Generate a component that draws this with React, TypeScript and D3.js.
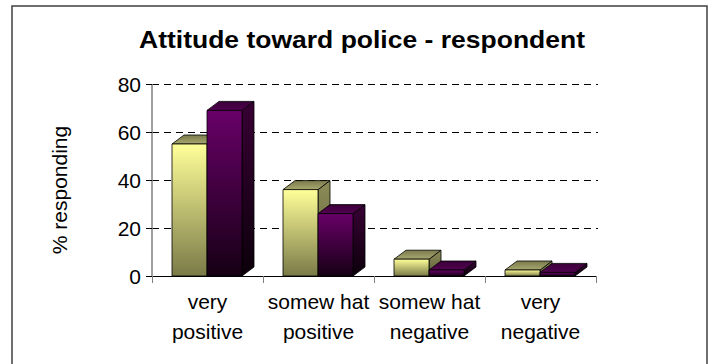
import React from "react";
import * as d3 from "d3";

const categories = [
  ["very", "positive"],
  ["somew hat", "positive"],
  ["somew hat", "negative"],
  ["very", "negative"],
];
const seriesNames = ["respondent", "other"];
const respondentValues = [55, 36, 7, 2.5];
const otherValues = [69, 26, 2.5, 1.5];
const yTicks = [0, 20, 40, 60, 80];

const W = 710;
const H = 364;
const plot = { left: 152, right: 596, top: 84, bottom: 276 };
const DX = 12;
const DY = 9;
const FONT = "'Liberation Sans', Arial, sans-serif";

const palettes = {
  respondent: {
    front: ["#ffff99", "#7a7a48"],
    side: ["#8c8c58", "#5e5e3a"],
    top: ["#a8a870", "#7a7a4c"],
  },
  other: {
    front: ["#680068", "#160014"],
    side: ["#380034", "#0c000b"],
    top: ["#520050", "#3a0038"],
  },
};

export default function App() {
  const x = d3
    .scaleBand<number>()
    .domain(categories.map((_, i) => i))
    .range([plot.left, plot.right]);
  const inner = d3
    .scaleBand<string>()
    .domain(seriesNames)
    .range([20, 20 + 70]);
  const y = d3.scaleLinear().domain([0, 80]).range([plot.bottom, plot.top]);

  const seriesValues: Record<string, number[]> = {
    respondent: respondentValues,
    other: otherValues,
  };

  const bars: React.ReactNode[] = [];
  categories.forEach((_, ci) => {
    seriesNames.forEach((s) => {
      const v = seriesValues[s][ci];
      const x0 = (x(ci) as number) + (inner(s) as number);
      const w = inner.bandwidth();
      const yt = y(v);
      const yb = y(0);
      const key = `${ci}-${s}`;
      bars.push(
        <g key={key} stroke="#000" strokeWidth={0.8} strokeLinejoin="round">
          <polygon
            points={`${x0 + w},${yt} ${x0 + w + DX},${yt - DY} ${x0 + w + DX},${yb - DY} ${x0 + w},${yb}`}
            fill={`url(#side-${s})`}
          />
          <polygon
            points={`${x0},${yt} ${x0 + DX},${yt - DY} ${x0 + w + DX},${yt - DY} ${x0 + w},${yt}`}
            fill={`url(#top-${s})`}
          />
          <rect x={x0} y={yt} width={w} height={yb - yt} fill={`url(#front-${s})`} />
        </g>
      );
    });
  });

  return (
    <svg width={W} height={H} style={{ position: "absolute", left: 0, top: 0 }}>
      <defs>
        {seriesNames.map((s) => {
          const p = palettes[s as keyof typeof palettes];
          return (
            <React.Fragment key={s}>
              <linearGradient id={`front-${s}`} x1="0" y1="0" x2="0" y2="1">
                <stop offset="0" stopColor={p.front[0]} />
                <stop offset="1" stopColor={p.front[1]} />
              </linearGradient>
              <linearGradient id={`side-${s}`} x1="0" y1="0" x2="0" y2="1">
                <stop offset="0" stopColor={p.side[0]} />
                <stop offset="1" stopColor={p.side[1]} />
              </linearGradient>
              <linearGradient id={`top-${s}`} x1="0" y1="1" x2="0" y2="0">
                <stop offset="0" stopColor={p.top[0]} />
                <stop offset="1" stopColor={p.top[1]} />
              </linearGradient>
            </React.Fragment>
          );
        })}
      </defs>
      <rect x={0} y={0} width={W} height={H} fill="#fff" />
      <rect x={12} y={6} width={695} height={380} fill="#fff" stroke="#404040" strokeWidth={1.5} />

      <text
        x={362}
        y={48}
        textAnchor="middle"
        fontFamily={FONT}
        fontWeight="bold"
        fontSize={24}
        textLength={446}
        lengthAdjust="spacingAndGlyphs"
        fill="#000"
      >
        Attitude toward police - respondent
      </text>

      {/* gridlines */}
      {yTicks
        .filter((t) => t > 0)
        .map((t) => (
          <line
            key={t}
            x1={plot.left}
            x2={plot.right + 2}
            y1={y(t) + 0.5}
            y2={y(t) + 0.5}
            stroke="#000"
            strokeWidth={1}
            strokeDasharray="7,5"
          />
        ))}

      {/* y axis */}
      <line x1={plot.left} x2={plot.left} y1={plot.top} y2={plot.bottom} stroke="#808080" strokeWidth={1.5} />
      {yTicks.map((t) => (
        <g key={t}>
          <line x1={plot.left - 6} x2={plot.left} y1={y(t) + 0.5} y2={y(t) + 0.5} stroke="#000" />
          <text
            x={plot.left - 11}
            y={y(t)}
            dy="0.36em"
            textAnchor="end"
            fontFamily={FONT}
            fontSize={21}
            fill="#000"
          >
            {t}
          </text>
        </g>
      ))}

      {bars}

      {/* x axis */}
      <line x1={plot.left} x2={plot.right} y1={plot.bottom + 0.5} y2={plot.bottom + 0.5} stroke="#000" strokeWidth={1.2} />
      {categories.map((_, i) => (
        <line
          key={`t${i}`}
          x1={(x(i) as number) + 0.5}
          x2={(x(i) as number) + 0.5}
          y1={plot.bottom}
          y2={plot.bottom + 7}
          stroke="#808080"
        />
      ))}
      <line x1={plot.right + 0.5} x2={plot.right + 0.5} y1={plot.bottom} y2={plot.bottom + 7} stroke="#808080" />
      {categories.map((lines, i) => (
        <text
          key={`c${i}`}
          textAnchor="middle"
          fontFamily={FONT}
          fontSize={21}
          fill="#000"
        >
          {lines.map((l, li) => (
            <tspan key={li} x={(x(i) as number) + x.bandwidth() / 2} y={309 + li * 30}>
              {l}
            </tspan>
          ))}
        </text>
      ))}

      <text
        transform={`translate(67,190) rotate(-90)`}
        textAnchor="middle"
        fontFamily={FONT}
        fontSize={21}
        fill="#000"
      >
        % responding
      </text>
    </svg>
  );
}
